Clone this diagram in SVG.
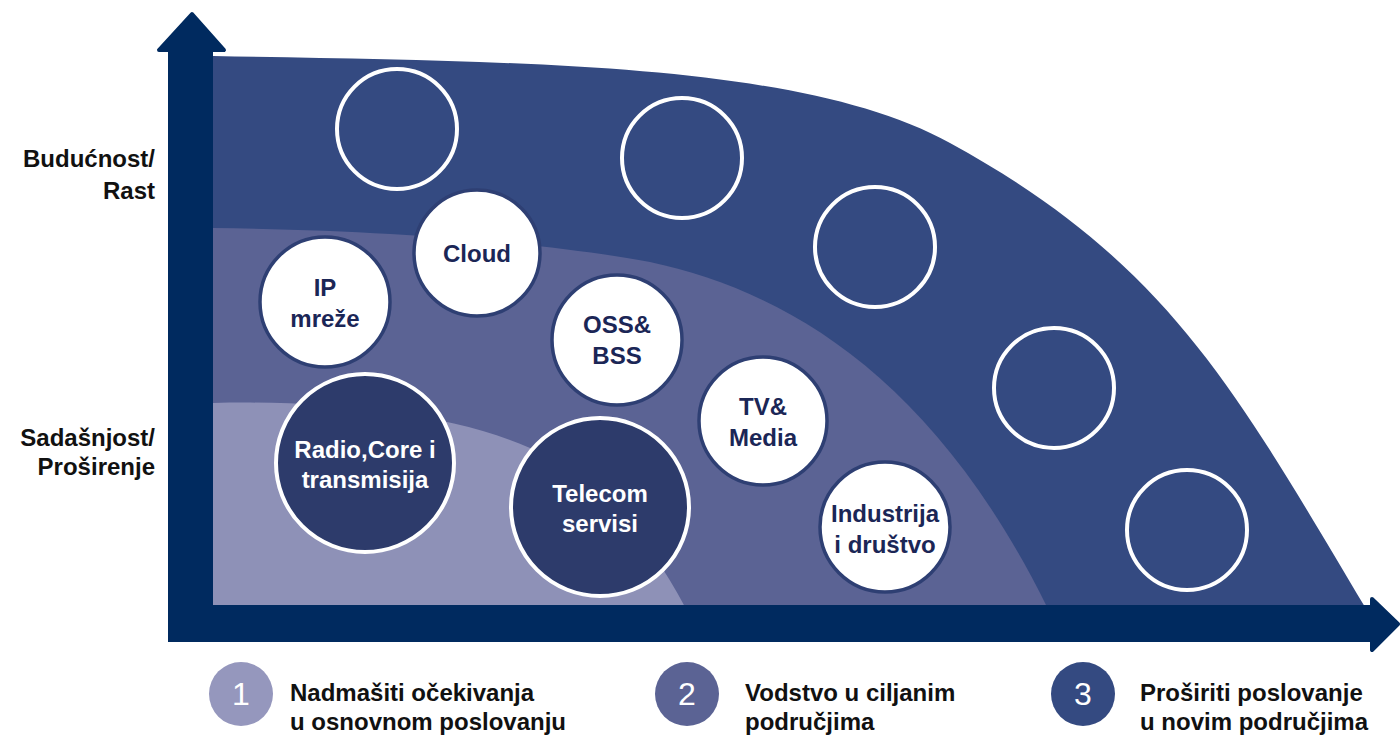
<svg xmlns="http://www.w3.org/2000/svg" width="1400" height="737" viewBox="0 0 1400 737">
<style>
.lbl{font-family:"Liberation Sans",Arial,sans-serif;font-weight:bold;font-size:24px;fill:#111;text-anchor:end}
.leg{font-family:"Liberation Sans",Arial,sans-serif;font-weight:bold;font-size:24px;fill:#111}
.num{font-family:"Liberation Sans",Arial,sans-serif;font-size:32px;fill:#fff;text-anchor:middle}
.ct{font-family:"Liberation Sans",Arial,sans-serif;font-weight:bold;font-size:24px;text-anchor:middle}
.wc{fill:#fff;stroke:#2e3f73;stroke-width:3.5}
.wt{fill:#1b2656}
.dc{fill:#2d3b6b;stroke:#fff;stroke-width:4}
.dt{fill:#fff}
.ec{fill:none;stroke:#fff;stroke-width:4}
.axis{fill:#002a5f;stroke:#002a5f;stroke-linejoin:round;stroke-width:4}
</style>
<rect width="1400" height="737" fill="#fff"/>
<g id="regions">
<path d="M205,56 L213,56 C513,62 800,60.5 950,143 C1169,263 1235,390 1365,607 L205,607 Z" fill="#344a81"/>
<path d="M205,228 L213,228 C400,230 560,245 650,262 C780,290 930,370 1047,607 L205,607 Z" fill="#5b6394"/>
<path d="M205,403 L213,403 C330,400 450,413 530,448 C600,482 650,540 685,607 L205,607 Z" fill="#8e91b7"/>
</g>
<g id="connectors">
<rect x="168" y="48" width="45" height="594" fill="#002a5f"/>
<path class="axis" d="M159,50 L192,14 L224,50 Z"/>
<path d="M168,605 L1374,605 L1374,642 L174,642 Q168,642 168,636 Z" fill="#002a5f"/>
<path class="axis" d="M1372,599 L1398,624 L1372,650 Z"/>
</g>
<g id="axis-labels">
<text class="lbl" x="155" y="167">Budućnost/</text>
<text class="lbl" x="155" y="199">Rast</text>
<text class="lbl" x="155" y="446">Sadašnjost/</text>
<text class="lbl" x="155" y="475">Proširenje</text>
</g>
<g id="empty1"><circle class="ec" cx="397" cy="129" r="60"/></g>
<g id="empty2"><circle class="ec" cx="682" cy="158" r="60"/></g>
<g id="empty3"><circle class="ec" cx="875" cy="247" r="60"/></g>
<g id="empty4"><circle class="ec" cx="1054" cy="388" r="60"/></g>
<g id="empty5"><circle class="ec" cx="1187" cy="530" r="60"/></g>
<g id="ip"><circle class="wc" cx="325" cy="302" r="65"/>
<text class="ct wt" x="325" y="296">IP</text><text class="ct wt" x="325" y="327">mreže</text></g>
<g id="cloud"><circle class="wc" cx="477" cy="253" r="63"/>
<text class="ct wt" x="477" y="262">Cloud</text></g>
<g id="oss"><circle class="wc" cx="617" cy="340" r="65"/>
<text class="ct wt" x="617" y="333">OSS&amp;</text><text class="ct wt" x="617" y="364">BSS</text></g>
<g id="tv"><circle class="wc" cx="763" cy="421" r="64"/>
<text class="ct wt" x="763" y="415">TV&amp;</text><text class="ct wt" x="763" y="446">Media</text></g>
<g id="industrija"><circle class="wc" cx="885" cy="527" r="65"/>
<text class="ct wt" x="885" y="522">Industrija</text><text class="ct wt" x="885" y="553">i društvo</text></g>
<g id="radio"><circle class="dc" cx="365" cy="463" r="89"/>
<text class="ct dt" x="365" y="458">Radio,Core i</text><text class="ct dt" x="365" y="488">transmisija</text></g>
<g id="telecom"><circle class="dc" cx="600" cy="507" r="89"/>
<text class="ct dt" x="600" y="502">Telecom</text><text class="ct dt" x="600" y="532">servisi</text></g>
<g id="legend1"><circle cx="241" cy="694" r="32" fill="#9597bd"/>
<text class="num" x="241" y="705">1</text>
<text class="leg" x="290" y="701">Nadmašiti očekivanja</text><text class="leg" x="290" y="730">u osnovnom poslovanju</text></g>
<g id="legend2"><circle cx="687" cy="694" r="32" fill="#5b6394"/>
<text class="num" x="687" y="705">2</text>
<text class="leg" x="745" y="701">Vodstvo u ciljanim</text><text class="leg" x="745" y="730">područjima</text></g>
<g id="legend3"><circle cx="1083" cy="694" r="32" fill="#344a81"/>
<text class="num" x="1083" y="705">3</text>
<text class="leg" x="1140" y="701">Proširiti poslovanje</text><text class="leg" x="1140" y="730">u novim područjima</text></g>
</svg>
